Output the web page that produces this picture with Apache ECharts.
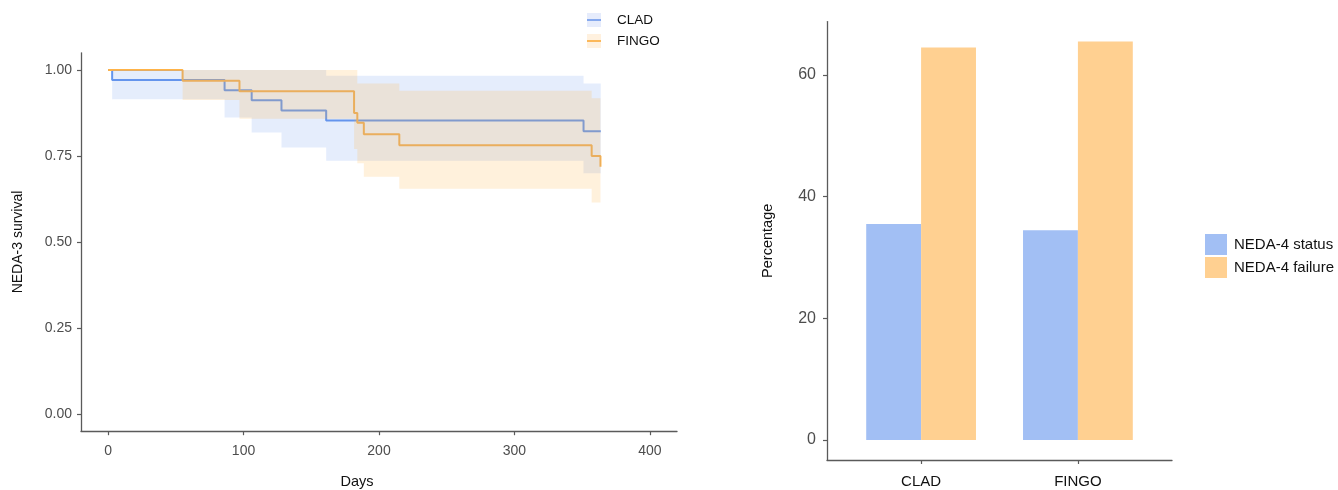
<!DOCTYPE html>
<html><head><meta charset="utf-8">
<script src="https://cdn.jsdelivr.net/npm/echarts@6/dist/echarts.min.js"></script>
<style>html,body{margin:0;padding:0;background:#fff}#c{width:1338px;height:490px}</style>
</head><body><div id="c"></div>
<script>
// ---- Left: Kaplan-Meier NEDA-3 survival ----
const groups = ['CLAD', 'FINGO'];
const cladDays = [0, 3, 86, 106, 128, 161, 351, 363.7];
const cladSurv = [1.0, 0.971, 0.941, 0.912, 0.882, 0.853, 0.822, 0.822];
const fingoDays = [0, 55, 97, 181.6, 184, 188.8, 215, 357, 363.5];
const fingoSurv = [1.0, 0.969, 0.938, 0.875, 0.847, 0.813, 0.781, 0.750, 0.719];
const cladBandStart = [3, 86, 106, 128, 161, 351];
const cladBandEnd   = [86, 106, 128, 161, 351, 363.7];
const cladLower     = [0.915, 0.862, 0.818, 0.775, 0.736, 0.700];
const cladUpper     = [1.0, 1.0, 1.0, 1.0, 0.983, 0.961];
const fingoBandStart = [55, 97, 181.6, 184, 188.8, 215, 357];
const fingoBandEnd   = [97, 181.6, 184, 188.8, 215, 357, 363.5];
const fingoLower     = [0.913, 0.858, 0.770, 0.729, 0.690, 0.655, 0.615];
const fingoUpper     = [1.0, 1.0, 1.0, 0.961, 0.961, 0.940, 0.918];
const dayTicks = [0, 100, 200, 300, 400];
const survTicks = [0, 0.25, 0.5, 0.75, 1.0];

// ---- Right: NEDA-4 bar chart ----
const barCategories = ['CLAD', 'FINGO'];
const barSeriesNames = ['NEDA-4 status', 'NEDA-4 failure'];
const neda4Status = [35.5, 34.5];
const neda4Failure = [64.5, 65.5];
const pctTicks = [0, 20, 40, 60];

const FONT = 'Liberation Sans';
const AX = '#5a5a5a';
const blue = '#6495ED', orange = '#FFB347';

function bandRender(starts, ends, lows, highs, fill) {
  return function (params, api) {
    if (params.dataIndex !== 0) return null;
    const pts = [];
    for (let i = 0; i < starts.length; i++) {
      pts.push(api.coord([starts[i], highs[i]]));
      pts.push(api.coord([ends[i], highs[i]]));
    }
    for (let i = starts.length - 1; i >= 0; i--) {
      pts.push(api.coord([ends[i], lows[i]]));
      pts.push(api.coord([starts[i], lows[i]]));
    }
    return { type: 'polygon', shape: { points: pts }, style: { fill: fill } };
  };
}
function barRender(o0, o1, color) {
  return function (params, api) {
    const x = api.value(0), y = api.value(1);
    const a = api.coord([x + o0, y]);
    const b = api.coord([x + o1, 0]);
    return { type: 'rect', shape: { x: a[0], y: a[1], width: b[0] - a[0], height: b[1] - a[1] }, style: { fill: color } };
  };
}

const chart = echarts.init(document.getElementById('c'), null, { renderer: 'canvas' });
const axisLine = { show: true, onZero: false, lineStyle: { color: AX, width: 1.3 } };
function ticks(vals) { return { show: true, length: 4, customValues: vals, lineStyle: { color: AX, width: 1.2 } }; }
chart.setOption({
  animation: false,
  backgroundColor: '#fff',
  textStyle: { fontFamily: FONT },
  grid: [
    { left: 81, top: 52.8, width: 596, height: 378.4, containLabel: false, outerBoundsMode: 'none' },
    { left: 827, top: 21.6, width: 345, height: 438.4, containLabel: false, outerBoundsMode: 'none' }
  ],
  xAxis: [
    {
      type: 'value', gridIndex: 0, min: -20, max: 420,
      axisLine: axisLine, splitLine: { show: false }, axisTick: ticks(dayTicks),
      axisLabel: { customValues: dayTicks, margin: 13, color: '#4d4d4d', fontSize: 14, fontFamily: FONT },
      name: 'Days', nameLocation: 'middle', nameGap: 43,
      nameTextStyle: { color: '#111', fontSize: 14.5, fontFamily: FONT, padding: [0, 44, 0, 0] }
    },
    {
      type: 'value', gridIndex: 1, min: 0.4, max: 2.6,
      axisLine: axisLine, splitLine: { show: false }, axisTick: ticks([1, 2]),
      axisLabel: { customValues: [1, 2], margin: 14, color: '#111', fontSize: 15, fontFamily: FONT,
        formatter: v => barCategories[Math.round(v) - 1] }
    }
  ],
  yAxis: [
    {
      type: 'value', gridIndex: 0, min: -0.05, max: 1.05,
      axisLine: axisLine, splitLine: { show: false }, axisTick: ticks(survTicks),
      axisLabel: { customValues: survTicks, margin: 9, color: '#4d4d4d', fontSize: 14, fontFamily: FONT,
        formatter: v => v.toFixed(2) },
      name: 'NEDA-3 survival', nameLocation: 'middle', nameGap: 56,
      nameTextStyle: { color: '#111', fontSize: 14, fontFamily: FONT }
    },
    {
      type: 'value', gridIndex: 1, min: -3.275, max: 68.775,
      axisLine: axisLine, splitLine: { show: false }, axisTick: ticks(pctTicks),
      axisLabel: { customValues: pctTicks, margin: 11, color: '#4d4d4d', fontSize: 16, fontFamily: FONT },
      name: 'Percentage', nameLocation: 'middle', nameGap: 52,
      nameTextStyle: { color: '#111', fontSize: 14.5, fontFamily: FONT }
    }
  ],
  legend: [
    {
      orient: 'vertical', left: 587, top: 13, padding: 0, itemWidth: 14, itemHeight: 14, itemGap: 7,
      icon: 'rect', selectedMode: false,
      textStyle: { color: '#111', fontSize: 13.5, fontFamily: FONT, padding: [0, 0, 0, 11] },
      data: [
        { name: groups[0], itemStyle: { color: '#E6ECFC' } },
        { name: groups[1], itemStyle: { color: '#FFF1DF' } }
      ]
    },
    {
      orient: 'vertical', left: 1205, top: 234, padding: 0, itemWidth: 22, itemHeight: 21, itemGap: 2,
      icon: 'rect', selectedMode: false,
      textStyle: { color: '#111', fontSize: 15, fontFamily: FONT, padding: [0, 0, 0, 2] },
      data: [
        { name: barSeriesNames[0], itemStyle: { color: '#A2BFF4' } },
        { name: barSeriesNames[1], itemStyle: { color: '#FFD091' } }
      ]
    }
  ],
  graphic: [
    { type: 'line', z: 100, shape: { x1: 587, y1: 20, x2: 601, y2: 20 }, style: { stroke: '#86A9EE', lineWidth: 2 } },
    { type: 'line', z: 100, shape: { x1: 587, y1: 41, x2: 601, y2: 41 }, style: { stroke: '#FCB85A', lineWidth: 2 } }
  ],
  series: [
    { name: 'CLAD line', type: 'line', xAxisIndex: 0, yAxisIndex: 0, step: 'end', showSymbol: false, z: 2,
      lineStyle: { color: blue, width: 2 }, itemStyle: { color: blue },
      data: cladDays.map((d, i) => [d, cladSurv[i]]) },
    { name: 'FINGO line', type: 'line', xAxisIndex: 0, yAxisIndex: 0, step: 'end', showSymbol: false, z: 2,
      lineStyle: { color: orange, width: 2 }, itemStyle: { color: orange },
      data: fingoDays.map((d, i) => [d, fingoSurv[i]]) },
    { name: groups[0], type: 'custom', xAxisIndex: 0, yAxisIndex: 0, z: 3,
      itemStyle: { color: '#E6ECFC' },
      renderItem: bandRender(cladBandStart, cladBandEnd, cladLower, cladUpper, 'rgba(100,149,237,0.17)'),
      data: [[cladBandStart[0], cladUpper[0]]] },
    { name: groups[1], type: 'custom', xAxisIndex: 0, yAxisIndex: 0, z: 4,
      itemStyle: { color: '#FFF1DF' },
      renderItem: bandRender(fingoBandStart, fingoBandEnd, fingoLower, fingoUpper, 'rgba(255,179,71,0.19)'),
      data: [[fingoBandStart[0], fingoUpper[0]]] },
    { name: barSeriesNames[0], type: 'custom', xAxisIndex: 1, yAxisIndex: 1,
      itemStyle: { color: '#A2BFF4' },
      renderItem: barRender(-0.35, 0, '#A2BFF4'),
      encode: { x: 0, y: 1 },
      data: neda4Status.map((v, i) => [i + 1, v]) },
    { name: barSeriesNames[1], type: 'custom', xAxisIndex: 1, yAxisIndex: 1,
      itemStyle: { color: '#FFD091' },
      renderItem: barRender(0, 0.35, '#FFD091'),
      encode: { x: 0, y: 1 },
      data: neda4Failure.map((v, i) => [i + 1, v]) }
  ]
});
</script></body></html>
